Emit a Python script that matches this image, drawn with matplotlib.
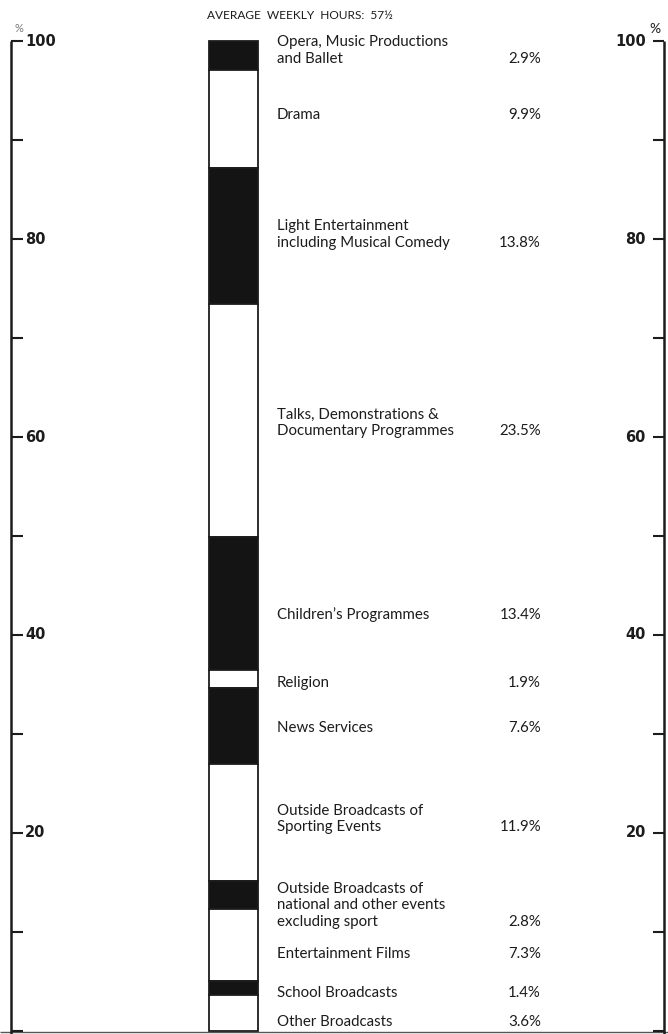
import matplotlib
matplotlib.use("Agg")
import matplotlib.pyplot as plt
import numpy as np

# ---------------- data ----------------
title = "AVERAGE  WEEKLY  HOURS:  57½"
categories = [
    "Opera, Music Productions\nand Ballet",
    "Drama",
    "Light Entertainment\nincluding Musical Comedy",
    "Talks, Demonstrations &\nDocumentary Programmes",
    "Children’s Programmes",
    "Religion",
    "News Services",
    "Outside Broadcasts of\nSporting Events",
    "Outside Broadcasts of\nnational and other events\nexcluding sport",
    "Entertainment Films",
    "School Broadcasts",
    "Other Broadcasts",
]
shares = [2.9, 9.9, 13.8, 23.5, 13.4, 1.9, 7.6, 11.9, 2.8, 7.3, 1.4, 3.6]
share_labels = ["2.9%", "9.9%", "13.8%", "23.5%", "13.4%", "1.9%", "7.6%",
                "11.9%", "2.8%", "7.3%", "1.4%", "3.6%"]
tick_values = list(range(0, 101, 10))
tick_labels = {20: "20", 40: "40", 60: "60", 80: "80", 100: "100"}

# ---------------- layout ----------------
label_last_line_y = [98.23, 92.55, 79.61, 60.61, 42.01, 35.14, 30.59,
                     20.58, 10.98, 7.74, 3.80, 0.87]
line_step = 1.668
fills = ["#141414" if i % 2 == 0 else "white" for i in range(len(shares))]
ink = "#1c1c1c"
FONT = ["Lato", "DejaVu Sans"]
NUMFONT = ["DejaVu Sans"]
PX = 1 / 9.893  # one pixel in data units (vertical)

fig = plt.figure(figsize=(6.68, 10.34), dpi=100)
ax = fig.add_axes([0, 0, 1, 1])
ax.set_xlim(0, 668)
ax.set_ylim(-0.34, 104.17)
ax.axis("off")

# stacked bar, first category at the top
tops = 100 - np.concatenate([[0], np.cumsum(shares)[:-1]])
bottoms = tops - np.array(shares)
ax.bar(233.5, shares, bottom=bottoms, width=49, color=fills,
       edgecolor=ink, linewidth=1.3, zorder=3)

# category labels and percentages
for cat, lab, yl in zip(categories, share_labels, label_last_line_y):
    lines = cat.split("\n")
    n = len(lines)
    for k, ln in enumerate(lines):
        y = yl + (n - 1 - k) * line_step
        ax.text(277, y, ln, ha="left", va="center", fontsize=10.8,
                color=ink, family=FONT)
    ax.text(541, yl, lab, ha="right", va="center", fontsize=10.8,
            color=ink, family=FONT)

# title
ax.text(300, 104.17 - 15 * PX, title, ha="center", va="center",
        fontsize=8.6, color=ink, family=FONT)

# left scale
ax.vlines(11, -0.34, 100, color=ink, lw=1.8, zorder=4)
ax.hlines(tick_values, 11, 23, color=ink, lw=1.5, zorder=4)
# right scale
ax.vlines(664, -0.34, 100, color=ink, lw=1.8, zorder=4)
ax.hlines(tick_values, 653, 664, color=ink, lw=1.5, zorder=4)
for v, s in tick_labels.items():
    ax.text(25, v, s, ha="left", va="center", fontsize=10.5, fontweight="bold",
            color=ink, family=NUMFONT)
    ax.text(646, v, s, ha="right", va="center", fontsize=10.5, fontweight="bold",
            color=ink, family=NUMFONT)
ax.text(19, 100 + 7 * PX, "%", ha="center", va="bottom", fontsize=8,
        color="#777777", family=FONT)
ax.text(655, 100 + 6 * PX, "%", ha="center", va="bottom", fontsize=10,
        color=ink, family=FONT)

# baseline
ax.hlines(-0.1, 0, 668, color="#555555", lw=1.0, zorder=2)

fig.savefig("out.png", dpi=100, facecolor="white")
